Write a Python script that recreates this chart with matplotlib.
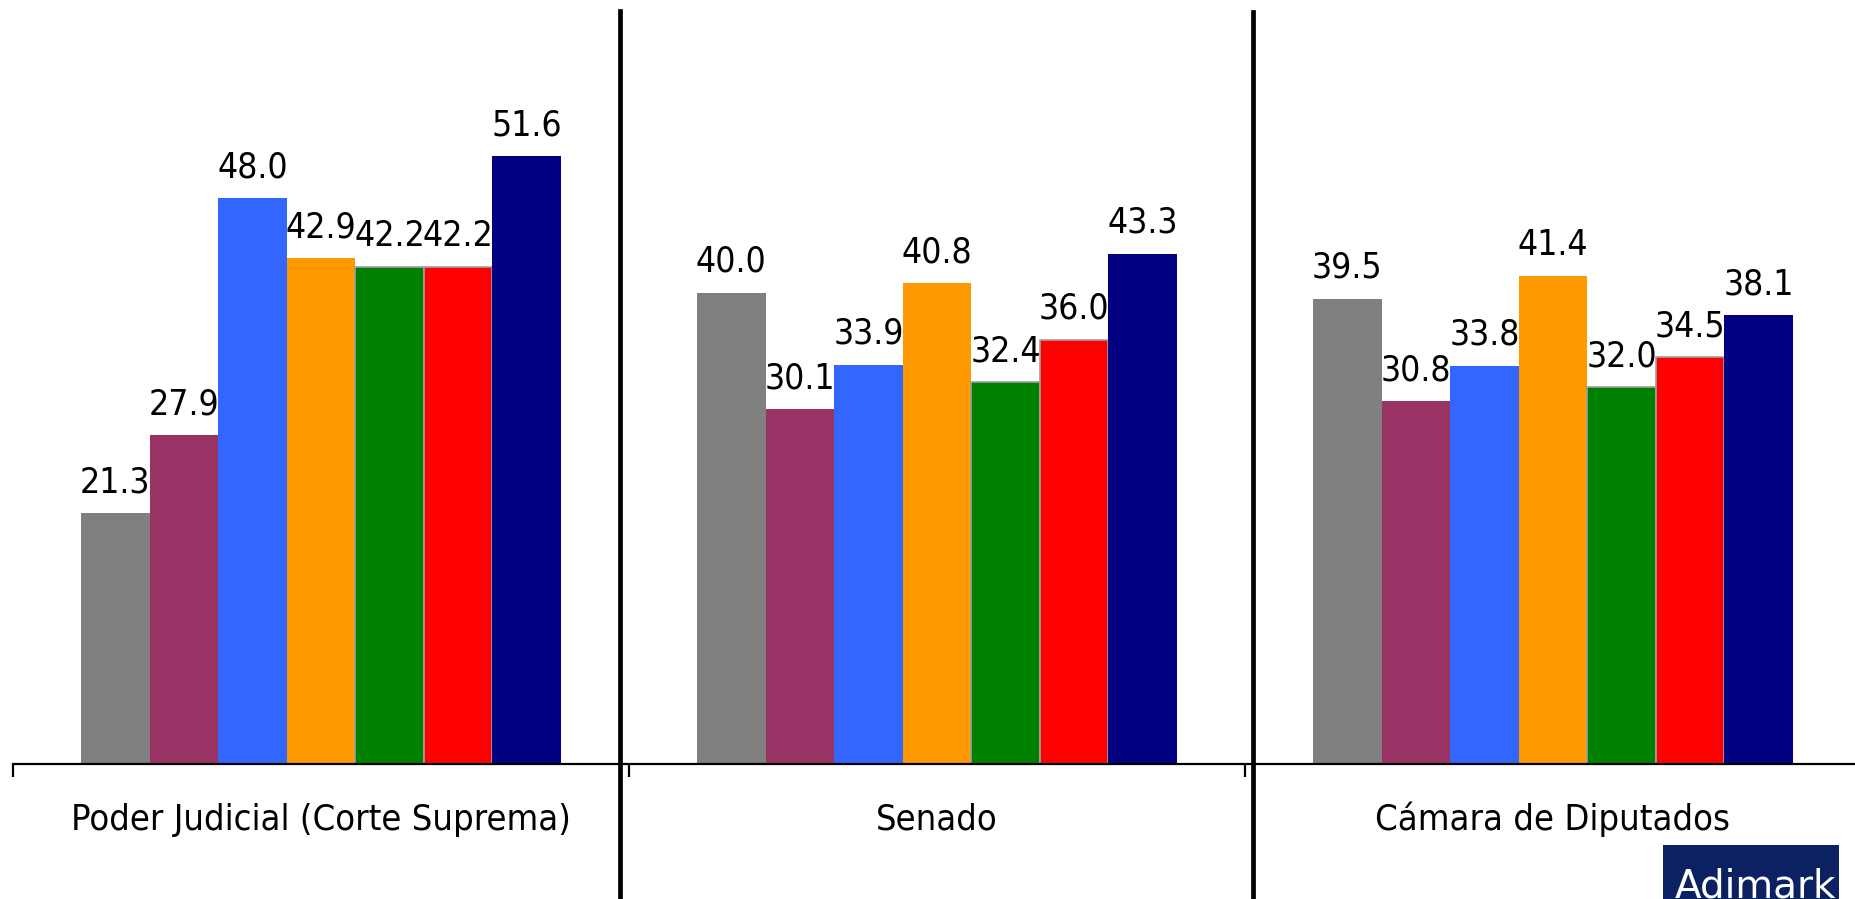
import matplotlib
matplotlib.use("Agg")
import matplotlib.pyplot as plt
import matplotlib.font_manager as fm
from matplotlib.patches import Rectangle
from matplotlib.lines import Line2D
import numpy as np

# ---- data ----
categories = ["Poder Judicial (Corte Suprema)", "Senado", "Cámara de Diputados"]
series_names = ["Serie 1", "Serie 2", "Serie 3", "Serie 4", "Serie 5", "Serie 6", "Serie 7"]
s1 = [21.3, 40.0, 39.5]
s2 = [27.9, 30.1, 30.8]
s3 = [48.0, 33.9, 33.8]
s4 = [42.9, 40.8, 41.4]
s5 = [42.2, 32.4, 32.0]
s6 = [42.2, 36.0, 34.5]
s7 = [51.6, 43.3, 38.1]
series_values = [s1, s2, s3, s4, s5, s6, s7]
colors = ["#808080", "#993366", "#3366FF", "#FF9900", "#008000", "#FF0000", "#000080"]
edges = [None, None, None, None, "#A0A0A0", "#A0A0A0", None]

# ---- font ----
cond = [f for f in fm.findSystemFonts() if f.endswith("DejaVuSansCondensed.ttf")]
def fp(size):
    if cond:
        p = fm.FontProperties(fname=cond[0]); p.set_size(size); return p
    return fm.FontProperties(family="Liberation Sans", size=size)

W, H = 1856, 899
fig = plt.figure(figsize=(W / 100, H / 100), dpi=100)
ax = fig.add_axes([13 / W, (H - 764) / H, 1848 / W, 707 / H])
ax.set_xlim(-0.5, 2.5)
ax.set_ylim(0, 60)

x = np.arange(len(categories))
bw = 0.1113
for j, (vals, c, e) in enumerate(zip(series_values, colors, edges)):
    pos = x + (j - 3) * bw
    ax.bar(pos, vals, width=bw, color=c, label=series_names[j],
           edgecolor=e if e else c, linewidth=1.2 if e else 0, zorder=2)
    for xi, v in zip(pos, vals):
        ax.annotate(f"{v:.1f}", (xi, v), xytext=(0, 15), textcoords="offset points",
                    ha="center", va="baseline", fontproperties=fp(25.5), color="#000000")

for i, cat in enumerate(categories):
    ax.annotate(cat, (i, 0), xytext=(0, -47.5), textcoords="offset points",
                ha="center", va="baseline", fontproperties=fp(26), color="#000000")

for s in ["left", "right", "top"]:
    ax.spines[s].set_visible(False)
ax.spines["bottom"].set_linewidth(1.6)
ax.spines["bottom"].set_color("#000000")
ax.spines["bottom"].set_zorder(3)
ax.set_yticks([])
ax.set_xticks([-0.5, 0.5, 1.5, 2.5])
ax.set_xticklabels([])
ax.tick_params(axis="x", direction="out", length=9, width=1.6, color="#000000")
ax.patch.set_alpha(0)

# separators
for sx, top in [(620, 11), (1253, 12)]:
    fig.add_artist(Line2D([sx / W, sx / W], [0, 1 - top / H], color="#000000",
                          linewidth=3.4, transform=fig.transFigure))

# logo
fig.add_artist(Rectangle((1663 / W, 0), (1839 - 1663) / W, (H - 845) / H,
                         transform=fig.transFigure, facecolor="#0B2161", edgecolor="none"))
fig.text(1755 / W, 2 / H, "Adimark", color="white", ha="center", va="baseline",
         fontproperties=fm.FontProperties(family="DejaVu Sans", size=28))

fig.savefig("out.png", dpi=100, facecolor="white")
